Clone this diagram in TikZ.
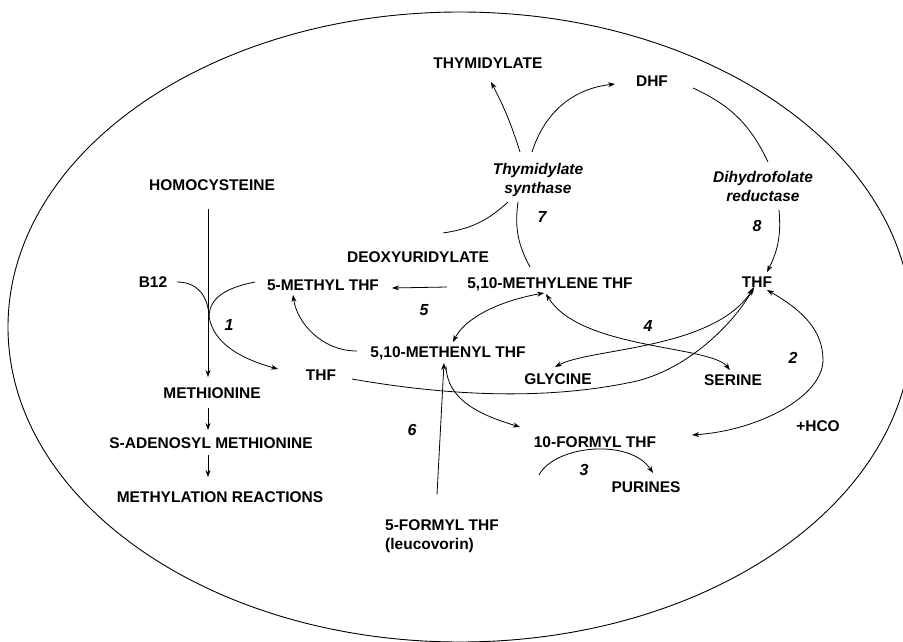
\documentclass[tikz,border=0pt]{standalone}
\usepackage{fontspec}
\setmainfont{Liberation Sans}
\usetikzlibrary{arrows.meta,calc}

\begin{document}
\begin{tikzpicture}[x=1pt,y=-1pt,
  txt/.style={font=\fontsize{15.5}{18.5}\selectfont\bfseries,inner sep=1pt},
  lbl/.style={txt,text height=11pt,text depth=0pt},
  enz/.style={txt,font=\fontsize{15.5}{18.5}\selectfont\bfseries\itshape,align=center,anchor=north},
  num/.style={lbl,font=\fontsize{16}{18}\selectfont\bfseries\itshape},
  link/.style={line width=0.8pt},
  arr/.style={link,-{Stealth[length=7pt,width=5pt]}},
  darr/.style={link,{Stealth[length=7pt,width=5pt]}-{Stealth[length=7pt,width=5pt]}}]
\useasboundingbox (0,0) rectangle (903,642);
\clip (0,0) rectangle (903,642);
\draw[line width=0.9pt] (460,327) ellipse [x radius=452pt, y radius=315pt];

\node[lbl] (homocys) at (212,185) {HOMOCYSTEINE};
\node[lbl] (methionine) at (212,393) {METHIONINE};
\node[lbl] (sam) at (211,443) {S-ADENOSYL METHIONINE};
\node[lbl] (methylation) at (220,497) {METHYLATION REACTIONS};
\node[lbl] (btwelve) at (153,282) {B12};
\node[lbl] (methylthf) at (323,285) {5-METHYL THF};
\node[lbl] (deoxyuri) at (418,257) {DEOXYURIDYLATE};
\node[lbl] (methylenethf) at (550,283) {5,10-METHYLENE THF};
\node[lbl] (methenylthf) at (448,352) {5,10-METHENYL THF};
\node[lbl] (thfa) at (321,375) {THF};
\node[lbl] (thfb) at (757,282) {THF};
\node[lbl] (glycine) at (558,379) {GLYCINE};
\node[lbl] (serine) at (733,380) {SERINE};
\node[lbl] (formylthf) at (595,442) {10-FORMYL THF};
\node[lbl] (purines) at (646,487) {PURINES};
\node[lbl] (hco) at (818,426) {+HCO};
\node[lbl] (thymidylate) at (488,63) {THYMIDYLATE};
\node[lbl] (dhf) at (652,81) {DHF};
\node[enz] (tsyn) at (538,162.5) {Thymidylate\\synthase};
\node[enz] (dhfr) at (763,170.5) {Dihydrofolate\\reductase};
\node[txt,align=left,anchor=north west] (leucovorin) at (384,518.5) {5-FORMYL THF\\(leucovorin)};

\node[num] (n1) at (229,325) {1};
\node[num] (n2) at (793,358) {2};
\node[num] (n3) at (584,470) {3};
\node[num] (n4) at (648,326) {4};
\node[num] (n5) at (424,310) {5};
\node[num] (n6) at (412,430) {6};
\node[num] (n7) at (542,217) {7};
\node[num] (n8) at (757,226) {8};

\coordinate (join) at ($(homocys.center)+(-3,131)$);

\draw[arr] ($(homocys.center)+(-4,24)$) -- ($(methionine.center)+(-4,-16)$);
\draw[arr] ($(methionine.center)+(-4,15)$) -- ($(sam.center)+(-3,-13)$);
\draw[arr] ($(sam.center)+(-3,12)$) -- ($(methylation.center)+(-12,-20)$);
\draw[arr] ($(btwelve.center)+(24,0)$) .. controls +(22,0) and +(-1,-18) .. (join)
  .. controls +(4,29) and +(-33,-9) .. ($(thfa.center)+(-43,-6)$);
\draw[link] ($(methylthf.center)+(-68,-3)$) .. controls +(-30,6) and +(1,-18) .. (join);

\draw[arr] ($(methylenethf.center)+(-103,4)$) -- ($(methylthf.center)+(69,3)$);
\draw[arr] ($(methenylthf.center)+(-91,-1)$) .. controls +(-35,0) and +(4,28) .. ($(methylthf.center)+(-30,10)$);
\draw[darr] ($(methenylthf.center)+(5,-10)$) .. controls +(12,-24) and +(-45,8) .. ($(methylenethf.center)+(-6,10)$);
\draw[darr] ($(methylenethf.center)+(-4,11)$) .. controls +(35,56) and +(-20,-25) .. ($(serine.center)+(-3,-10)$);
\draw[darr] ($(thfb.center)+(-4,7)$) .. controls +(-41,61) and +(35,-19) .. ($(glycine.center)+(-3,-12)$);
\draw[arr] ($(thfa.center)+(31,4)$) .. controls +(80,14) and +(-100,22) .. ($(thfa.center)+(316,6)$)
  .. controls +(55,-14) and +(-18,33) .. ($(thfb.center)+(-3,5)$);

\draw[arr] ($(leucovorin.north west)+(53,-24)$) -- ($(methenylthf.center)+(-4,11)$);
\draw[arr] ($(methenylthf.center)+(-2,14)$) .. controls +(1,34) and +(-40,-12) .. ($(formylthf.center)+(-75,-15)$);
\draw[darr] ($(thfb.center)+(10,8)$) .. controls +(35,20) and +(0,-30) .. ($(thfb.center)+(66,78)$)
  .. controls +(0,35) and +(70,-5) .. ($(formylthf.center)+(97,-7)$);
\draw[arr] ($(formylthf.center)+(-56,33)$) .. controls +(16,-30) and +(-23,-35) .. ($(purines.center)+(7,-14)$);

\draw[link] ($(deoxyuri.center)+(25,-24)$) to[bend right=17] ($(tsyn.north)+(-30,39.5)$);
\draw[link] ($(methylenethf.center)+(-20,-16)$) to[bend left=18] ($(tsyn.north)+(-20,39.5)$);
\draw[arr] ($(tsyn.north)+(-18,-10.5)$) to[bend right=5] ($(thymidylate.center)+(3,19)$);
\draw[arr] ($(tsyn.north)+(-6,-10.5)$) to[bend left=33] ($(dhf.center)+(-37,3)$);
\draw[link] ($(dhf.center)+(41,7)$) to[bend left=20] ($(dhfr.north)+(5,-8.5)$);
\draw[arr] ($(dhfr.north)+(16,39.5)$) to[bend left=16] ($(thfb.center)+(10,-10)$);
\end{tikzpicture}
\end{document}
